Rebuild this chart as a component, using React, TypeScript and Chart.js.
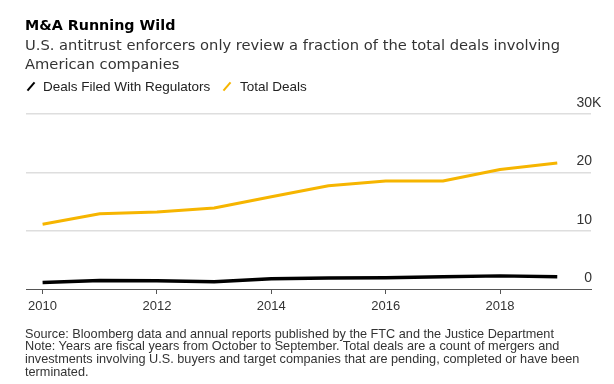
import React, { useEffect, useRef } from "react";
import { Chart, registerables } from "chart.js";

Chart.register(...registerables);

const years = [2010, 2011, 2012, 2013, 2014, 2015, 2016, 2017, 2018, 2019];
const dealsFiled = [1100, 1450, 1430, 1250, 1750, 1900, 1920, 2100, 2250, 2080];
const totalDeals = [11100, 12900, 13200, 13900, 15800, 17700, 18500, 18500, 20500, 21600];
const xTickYears = [2010, 2012, 2014, 2016, 2018];
const yTickValues = [0, 10000, 20000, 30000];
const yTickLabels = ["0", "10", "20", "30"];
const yTopSuffix = "K";

const FONT = "'Liberation Sans', Arial, sans-serif";
const WIDE = "'DejaVu Sans', sans-serif";

const yLabelPlugin = {
  id: "yLabels",
  afterDraw(chart: any) {
    const ctx = chart.ctx;
    const y = chart.scales.y;
    ctx.save();
    ctx.font = `14px ${FONT}`;
    ctx.fillStyle = "#333";
    ctx.textBaseline = "alphabetic";
    const rx = chart.chartArea.right + 1;
    yTickValues.forEach((v, i) => {
      const py = y.getPixelForValue(v) - 7;
      ctx.textAlign = "right";
      ctx.fillText(yTickLabels[i], rx, py);
      if (i === yTickValues.length - 1) {
        ctx.textAlign = "left";
        ctx.fillText(yTopSuffix, rx, py);
      }
    });
    ctx.restore();
  },
};

export default function App() {
  const ref = useRef<HTMLCanvasElement>(null);
  useEffect(() => {
    if (!ref.current) return;
    const chart = new Chart(ref.current, {
      type: "line",
      data: {
        datasets: [
          {
            label: "Total Deals",
            data: years.map((yr, i) => ({ x: yr, y: totalDeals[i] })),
            borderColor: "#f6b500",
            borderWidth: 3,
            pointRadius: 0,
            tension: 0,
            borderJoinStyle: "round",
          },
          {
            label: "Deals Filed With Regulators",
            data: years.map((yr, i) => ({ x: yr, y: dealsFiled[i] })),
            borderColor: "#000000",
            borderWidth: 3.5,
            pointRadius: 0,
            tension: 0,
            borderJoinStyle: "round",
          },
        ],
      },
      options: {
        animation: false,
        responsive: false,
        layout: { padding: { left: 26, right: 23, top: 114, bottom: 0 } },
        plugins: { legend: { display: false }, tooltip: { enabled: false } },
        scales: {
          x: {
            type: "linear",
            min: 2009.71,
            max: 2019.59,
            afterBuildTicks: (scale: any) => {
              scale.ticks = xTickYears.map((v) => ({ value: v }));
            },
            afterFit: (scale: any) => {
              scale.height = 95;
            },
            ticks: {
              callback: (v: any) => String(v),
              font: { family: FONT, size: 13 },
              color: "#333",
              padding: 5,
              maxRotation: 0,
            },
            grid: {
              drawOnChartArea: false,
              drawTicks: true,
              tickLength: 5,
              color: "#555",
            },
            border: { display: true, color: "#555", width: 1 },
          },
          y: {
            min: 0,
            max: 30000,
            position: "right",
            afterBuildTicks: (scale: any) => {
              scale.ticks = yTickValues.map((v) => ({ value: v }));
            },
            afterFit: (scale: any) => {
              scale.width = 0;
            },
            ticks: { display: false },
            grid: {
              drawTicks: false,
              color: (c: any) => (c.tick && c.tick.value === 0 ? "rgba(0,0,0,0)" : "#dedede"),
              lineWidth: 1.5,
            },
            border: { display: false },
          },
        },
      },
      plugins: [yLabelPlugin],
    } as any);
    return () => chart.destroy();
  }, []);

  const slash = (color: string) => (
    <span
      style={{
        display: "inline-block",
        width: 2,
        height: 11,
        background: color,
        transform: "rotate(40deg)",
        verticalAlign: "-1px",
      }}
    />
  );

  return (
    <div style={{ position: "absolute", left: 0, top: 0, width: 614, height: 384, background: "#fff", fontFamily: FONT, overflow: "hidden" }}>
      <canvas ref={ref} width={614} height={384} style={{ position: "absolute", left: 0, top: 0 }} />
      <div style={{ position: "absolute", left: 25, top: 16, fontFamily: WIDE, fontSize: 14.3, fontWeight: "bold", color: "#000", lineHeight: "18px", whiteSpace: "nowrap" }}>
        M&amp;A Running Wild
      </div>
      <div style={{ position: "absolute", left: 25, top: 36, fontFamily: WIDE, fontSize: 14.7, color: "#333", lineHeight: "18.5px", whiteSpace: "nowrap" }}>
        <div>U.S. antitrust enforcers only review a fraction of the total deals involving</div>
        <div>American companies</div>
      </div>
      <div style={{ position: "absolute", left: 0, top: 78, width: 614, height: 18, fontSize: 13.5, color: "#222", lineHeight: "18px", whiteSpace: "nowrap" }}>
        <span style={{ position: "absolute", left: 30 }}>{slash("#000")}</span>
        <span style={{ position: "absolute", left: 43 }}>Deals Filed With Regulators</span>
        <span style={{ position: "absolute", left: 226 }}>{slash("#f6b500")}</span>
        <span style={{ position: "absolute", left: 240 }}>Total Deals</span>
      </div>
      <div style={{ position: "absolute", left: 25, top: 327.5, fontSize: 12.7, color: "#333", lineHeight: "12.8px", whiteSpace: "nowrap" }}>
        <div>Source: Bloomberg data and annual reports published by the FTC and the Justice Department</div>
        <div>Note: Years are fiscal years from October to September. Total deals are a count of mergers and</div>
        <div>investments involving U.S. buyers and target companies that are pending, completed or have been</div>
        <div>terminated.</div>
      </div>
    </div>
  );
}
